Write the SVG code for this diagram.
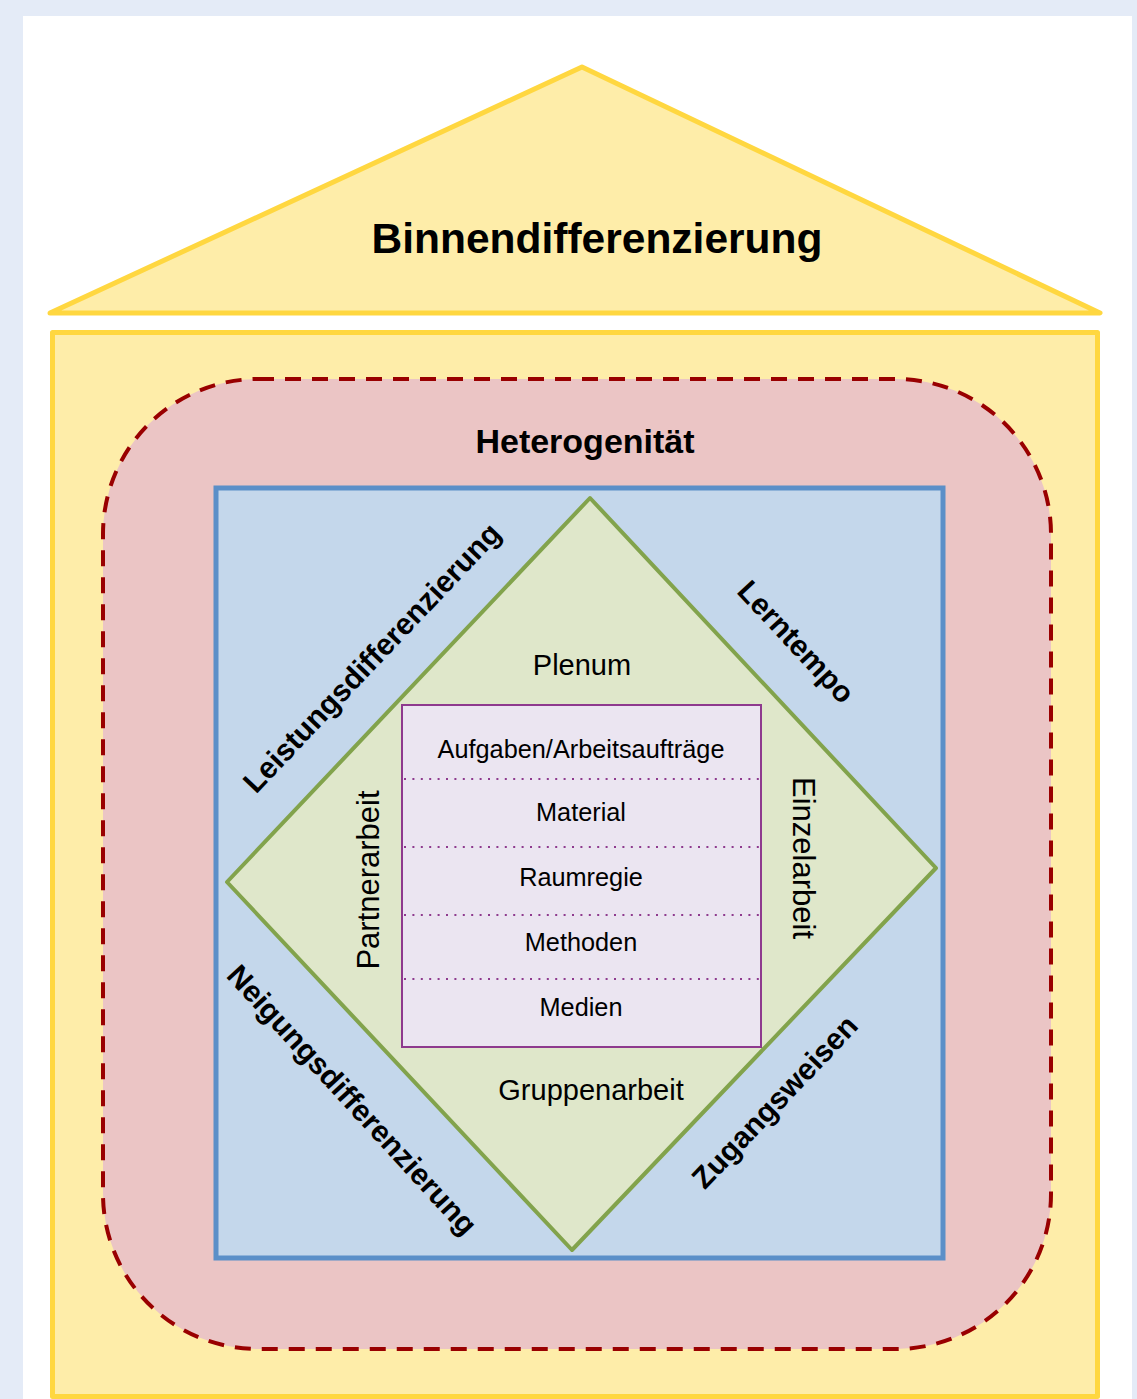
<svg xmlns="http://www.w3.org/2000/svg" width="1137" height="1399" viewBox="0 0 1137 1399">
<style>
text{font-family:"Liberation Sans",Arial,sans-serif;fill:#000;text-anchor:middle}
.b{font-weight:bold}
.item{font-size:25.3px}
.dot{stroke:#8E3A8E;stroke-width:2;stroke-dasharray:2 6.4;fill:none}
</style>
<rect x="0" y="0" width="1137" height="1399" fill="#E4EBF7"/>
<rect x="23" y="16" width="1109" height="1383" fill="#FFFFFF"/>
<g id="roof">
<polygon points="50,313 582,67 1100,313" fill="#FEEDA9" stroke="#FFD740" stroke-width="5" stroke-linejoin="round"/>
<text class="b" x="597" y="253" font-size="42.5">Binnendifferenzierung</text>
</g>
<g id="house">
<rect x="52.5" y="332.5" width="1045" height="1064" fill="#FEEDA9" stroke="#FFD740" stroke-width="5" stroke-linejoin="round"/>
</g>
<g id="heterogenitaet">
<rect x="103" y="379" width="948" height="970" rx="155" ry="155" fill="#EBC5C5" stroke="#990000" stroke-width="4" stroke-dasharray="16 11"/>
<text class="b" x="585" y="453" font-size="34">Heterogenität</text>
</g>
<g id="differenzierung">
<rect x="216" y="488" width="727" height="770" fill="#C4D7EB" stroke="#5B8FC8" stroke-width="5"/>
<text class="b" font-size="30" transform="translate(372,658) rotate(-46.5)" y="10">Leistungsdifferenzierung</text>
<text class="b" font-size="30" transform="translate(796,642) rotate(47)" y="10">Lerntempo</text>
<text class="b" font-size="30" transform="translate(352,1100) rotate(47.5)" y="10">Neigungsdifferenzierung</text>
<text class="b" font-size="30" transform="translate(775,1102) rotate(-46.5)" y="10">Zugangsweisen</text>
</g>
<g id="sozialformen">
<polygon points="590,498 936,868 572,1250 227,882" fill="#DFE7CA" stroke="#82A34C" stroke-width="4" stroke-linejoin="round"/>
<text x="582" y="675" font-size="29">Plenum</text>
<text x="591" y="1100" font-size="29">Gruppenarbeit</text>
<text font-size="31" transform="translate(379,880) rotate(-90)">Partnerarbeit</text>
<text font-size="31" transform="translate(793,858) rotate(90)">Einzelarbeit</text>
</g>
<g id="methoden">
<rect x="402" y="705" width="359" height="342" fill="#EBE5F1" stroke="#8E3A8E" stroke-width="2"/>
<line class="dot" x1="404" y1="779" x2="760" y2="779"/>
<line class="dot" x1="404" y1="847" x2="760" y2="847"/>
<line class="dot" x1="404" y1="915" x2="760" y2="915"/>
<line class="dot" x1="404" y1="979" x2="760" y2="979"/>
<text class="item" x="581" y="758">Aufgaben/Arbeitsaufträge</text>
<text class="item" x="581" y="821">Material</text>
<text class="item" x="581" y="886">Raumregie</text>
<text class="item" x="581" y="951">Methoden</text>
<text class="item" x="581" y="1016">Medien</text>
</g>
<g id="connectors"></g>
</svg>
